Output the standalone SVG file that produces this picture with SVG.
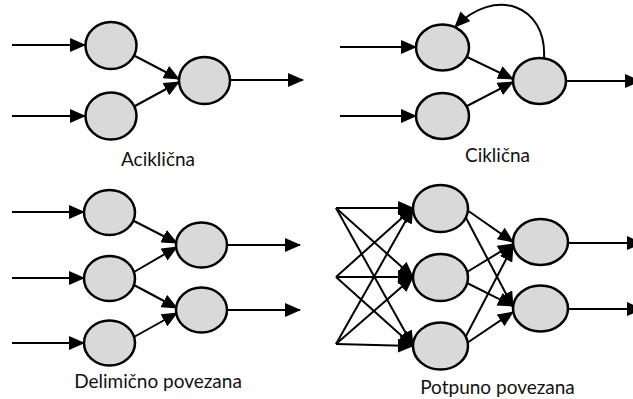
<svg xmlns="http://www.w3.org/2000/svg" width="633" height="399" viewBox="0 0 633 399">
<style>
.n{fill:#d9d9d9;stroke:#000;stroke-width:2.5}
.c{fill:none;stroke:#000;stroke-width:2;marker-end:url(#ah)}
.t{font-family:Lato,"Open Sans",sans-serif;font-size:19px;fill:#111;text-anchor:middle}
</style>
<defs>
<marker id="ah" markerUnits="userSpaceOnUse" markerWidth="16" markerHeight="14" viewBox="0 0 16 14" refX="15" refY="7" orient="auto">
<path d="M0,0 L16,7 L0,14 z" fill="#000"/>
</marker>
</defs>
<rect width="633" height="399" fill="#fff"/>
<g id="connectors">
<!-- Aciklicna -->
<line class="c" x1="12" y1="45" x2="85" y2="45"/>
<line class="c" x1="12" y1="116" x2="85" y2="116"/>
<line class="c" x1="135" y1="56" x2="179" y2="79"/>
<line class="c" x1="135" y1="106" x2="179" y2="82"/>
<line class="c" x1="230" y1="80" x2="303" y2="80"/>
<!-- Ciklicna -->
<line class="c" x1="340" y1="47" x2="416" y2="47"/>
<line class="c" x1="340" y1="116" x2="416" y2="116"/>
<line class="c" x1="467" y1="57" x2="513" y2="79"/>
<line class="c" x1="467" y1="106" x2="513" y2="82"/>
<line class="c" x1="566" y1="81" x2="640" y2="81"/>
<path class="c" d="M544,58 C547,5 495,-14 455,27"/>
<!-- Delimicno -->
<line class="c" x1="12" y1="212" x2="84" y2="212"/>
<line class="c" x1="12" y1="278" x2="84" y2="278"/>
<line class="c" x1="12" y1="343" x2="84" y2="343"/>
<line class="c" x1="134" y1="221" x2="177" y2="243"/>
<line class="c" x1="134" y1="272" x2="177" y2="247"/>
<line class="c" x1="134" y1="285" x2="177" y2="308"/>
<line class="c" x1="134" y1="337" x2="177" y2="313"/>
<line class="c" x1="227" y1="245" x2="300" y2="245"/>
<line class="c" x1="227" y1="310" x2="300" y2="310"/>
<!-- Potpuno -->
<line class="c" x1="336" y1="208" x2="413" y2="208"/>
<line class="c" x1="336" y1="208" x2="413" y2="277"/>
<line class="c" x1="336" y1="208" x2="413" y2="346"/>
<line class="c" x1="336" y1="277" x2="413" y2="208"/>
<line class="c" x1="336" y1="277" x2="413" y2="277"/>
<line class="c" x1="336" y1="277" x2="413" y2="346"/>
<line class="c" x1="336" y1="344" x2="413" y2="208"/>
<line class="c" x1="336" y1="344" x2="413" y2="277"/>
<line class="c" x1="336" y1="344" x2="413" y2="346"/>
<line class="c" x1="467" y1="210" x2="513" y2="242"/>
<line class="c" x1="465" y1="216" x2="513" y2="307"/>
<line class="c" x1="467" y1="272" x2="513" y2="244"/>
<line class="c" x1="467" y1="283" x2="513" y2="306"/>
<line class="c" x1="465" y1="338" x2="513" y2="246"/>
<line class="c" x1="467" y1="343" x2="513" y2="312"/>
<line class="c" x1="568" y1="243" x2="642" y2="243"/>
<line class="c" x1="568" y1="309" x2="642" y2="309"/>
</g>
<g id="A1"><ellipse class="n" cx="111" cy="45.5" rx="25.5" ry="23.5"/></g>
<g id="A2"><ellipse class="n" cx="111" cy="116" rx="25.5" ry="23.5"/></g>
<g id="A3"><ellipse class="n" cx="204.5" cy="80.5" rx="25.5" ry="23.5"/></g>
<g id="C1"><ellipse class="n" cx="442.5" cy="47.5" rx="26.5" ry="23"/></g>
<g id="C2"><ellipse class="n" cx="442.5" cy="116" rx="26.5" ry="23"/></g>
<g id="C3"><ellipse class="n" cx="539.5" cy="81" rx="26.5" ry="23"/></g>
<g id="B1"><ellipse class="n" cx="109.5" cy="212.5" rx="25.5" ry="22.5"/></g>
<g id="B2"><ellipse class="n" cx="109.5" cy="278.5" rx="25.5" ry="22.5"/></g>
<g id="B3"><ellipse class="n" cx="109.5" cy="343" rx="25.5" ry="22.5"/></g>
<g id="B4"><ellipse class="n" cx="201.5" cy="245" rx="25.5" ry="22.5"/></g>
<g id="B5"><ellipse class="n" cx="201.5" cy="310" rx="25.5" ry="22.5"/></g>
<g id="P1"><ellipse class="n" cx="440.5" cy="208.5" rx="27.5" ry="23.5"/></g>
<g id="P2"><ellipse class="n" cx="440.5" cy="277.5" rx="27.5" ry="23.5"/></g>
<g id="P3"><ellipse class="n" cx="440.5" cy="346" rx="27.5" ry="23.5"/></g>
<g id="P4"><ellipse class="n" cx="540.5" cy="242" rx="27.5" ry="23"/></g>
<g id="P5"><ellipse class="n" cx="540.5" cy="308.5" rx="27.5" ry="23"/></g>
<g id="labels">
<text class="t" x="158" y="166">Aciklična</text>
<text class="t" x="497.5" y="162">Ciklična</text>
<text class="t" x="158" y="388">Delimično povezana</text>
<text class="t" x="497.5" y="394">Potpuno povezana</text>
</g>
</svg>
